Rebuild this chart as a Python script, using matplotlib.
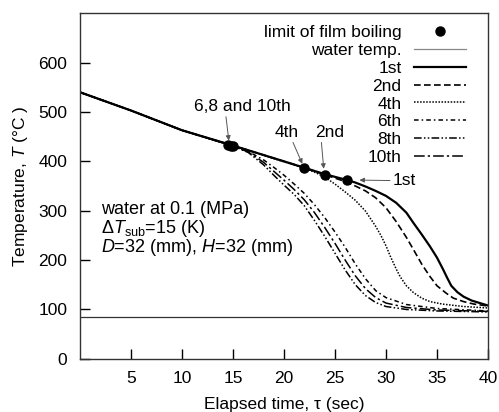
import matplotlib
matplotlib.use("Agg")
import matplotlib.pyplot as plt

plt.rcParams['font.family'] = ['Liberation Sans', 'DejaVu Sans']
plt.rcParams['mathtext.fontset'] = 'custom'
plt.rcParams['mathtext.rm'] = 'Liberation Sans'
plt.rcParams['mathtext.it'] = 'Liberation Sans:italic'

# ---- data ----
t_1st = [0, 5, 10, 15, 20, 22, 24, 26.2, 27, 28, 29, 30, 31, 32, 32.7, 33.5, 34.3, 35, 35.6, 36, 36.4, 37, 37.6, 38.4, 39.2, 40]
T_1st = [540, 503, 463, 432, 400, 387, 374, 362, 357, 349, 340, 330, 316, 296, 275, 252, 228, 205, 181, 164, 148, 135, 126, 118, 113, 108]

t_2nd = [0, 5, 10, 15, 20, 22, 24, 25, 26, 27, 28, 29, 30, 31, 32, 32.7, 33.5, 34.3, 35, 35.9, 36.6, 37.6, 38.6, 40]
T_2nd = [540, 503, 463, 432, 400, 387, 373, 366, 359, 350, 340, 326, 306, 278, 246, 221, 192, 167, 148, 133, 123, 116, 111, 107]

t_4th = [0, 5, 10, 15, 20, 22, 23, 24, 25, 26, 27, 28, 29, 29.5, 30, 30.4, 31, 31.4, 32, 32.7, 33.5, 34.3, 35.5, 37.6, 40]
T_4th = [540, 503, 463, 432, 399, 386, 378, 368, 354, 338, 321, 299, 268, 250, 229, 209, 182, 166, 148, 134, 123, 116, 111, 106, 103]

t_6th = [0, 5, 10, 15, 16.5, 18, 19, 20, 21, 22, 23, 24, 25, 26, 27, 28, 29, 30, 32, 35, 40]
T_6th = [540, 503, 463, 431, 420, 403, 388, 372, 354, 335, 312, 286, 257, 226, 192, 162, 138, 124, 110, 102, 97]

t_8th = [0, 5, 10, 15, 16.5, 18, 19, 20, 21, 22, 23, 24, 25, 26, 27, 28, 29, 30, 32, 35, 40]
T_8th = [540, 503, 463, 431, 418, 393, 372, 352, 333, 310, 280, 248, 214, 180, 150, 128, 114, 106, 100, 97, 95]

t_10th = [0, 5, 10, 15, 16.5, 18, 19, 20, 21, 22, 23, 24, 25, 26, 27, 28, 29, 30, 32, 35, 40]
T_10th = [540, 503, 463, 431, 419, 398, 380, 362, 343, 322, 296, 266, 234, 200, 168, 142, 124, 113, 104, 99, 96]

limit_t = [14.5, 14.8, 15.0, 22.0, 24.0, 26.2]
limit_T = [433, 432, 431, 386, 373, 362]

water_T = 85

x_ticks = [5, 10, 15, 20, 25, 30, 35, 40]
y_ticks = [0, 100, 200, 300, 400, 500, 600]

# ---- figure ----
fig = plt.figure(figsize=(4.99, 4.12), dpi=100)
ax = fig.add_axes([0.160, 0.129, 0.818, 0.839])

lim, = ax.plot(limit_t, limit_T, 'o', color='black', markersize=6.5, zorder=5,
               label='limit of film boiling')
wl = ax.axhline(water_T, color='#333333', lw=0.9, label='water temp.')
l1, = ax.plot(t_1st, T_1st, color='black', lw=1.6, label='1st')
l2, = ax.plot(t_2nd, T_2nd, color='black', lw=1.2, ls=(0, (4, 2)), label='2nd')
l4, = ax.plot(t_4th, T_4th, color='black', lw=1.1, ls=(0, (1, 1)), label='4th')
l6, = ax.plot(t_6th, T_6th, color='black', lw=1.1, ls=(0, (3, 2, 1, 2)), label='6th')
l8, = ax.plot(t_8th, T_8th, color='black', lw=1.1, ls=(0, (5, 1.5, 1, 1.5, 1, 1.5)), label='8th')
l10, = ax.plot(t_10th, T_10th, color='black', lw=1.1, ls=(0, (7, 2, 1.5, 2)), label='10th')

ax.set_xlim(0, 40)
ax.set_ylim(0, 700)
ax.set_xticks(x_ticks)
ax.set_yticks(y_ticks)
ax.tick_params(direction='in', length=7, width=1, labelsize=12.5, pad=9,
               top=False, right=False)
for s in ax.spines.values():
    s.set_linewidth(1.0)
    s.set_color('#333333')

ax.set_xlabel('Elapsed time, τ (sec)', fontsize=12.5, labelpad=8)
ax.set_ylabel('Temperature, $T$ (°C )', fontsize=12.5, labelpad=6)

# annotations
ap = dict(arrowstyle='-|>', color='#555555', lw=0.7, mutation_scale=7, shrinkA=0, shrinkB=0)
ax.annotate('6,8 and 10th', xy=(14.6, 442), xytext=(15.9, 511), ha='center', va='center',
            fontsize=12.5, arrowprops=dict(ap, relpos=(0.33, 0.0)))
ax.annotate('4th', xy=(21.8, 395), xytext=(20.3, 459), ha='center', va='center',
            fontsize=12.5, arrowprops=dict(ap, relpos=(0.7, 0.0)))
ax.annotate('2nd', xy=(23.9, 385), xytext=(24.5, 459), ha='center', va='center',
            fontsize=12.5, arrowprops=dict(ap, relpos=(0.2, 0.0)))
ax.annotate('1st', xy=(27.4, 362), xytext=(31.8, 361), ha='center', va='center',
            fontsize=12.5, arrowprops=dict(ap, relpos=(0.0, 0.5)))

ax.text(2.1, 302, 'water at 0.1 (MPa)', fontsize=13, va='center', ha='left')
ax.text(2.1, 264, r'$\Delta T_{\rm sub}$=15 (K)', fontsize=13, va='center', ha='left')
ax.text(2.1, 225, r'$D$=32 (mm), $H$=32 (mm)', fontsize=13, va='center', ha='left')

leg = ax.legend(handles=[lim, wl, l1, l2, l4, l6, l8, l10], loc='upper right',
                frameon=False, markerfirst=False, numpoints=1, fontsize=12.5,
                handlelength=3.0, handletextpad=0.7, labelspacing=0.15,
                borderaxespad=0.3, bbox_to_anchor=(0.975, 1.0))
for txt in leg.get_texts():
    txt.set_ha('right')
leg.get_lines()[1].set_color('#888888')

fig.savefig('out.png', dpi=100)
